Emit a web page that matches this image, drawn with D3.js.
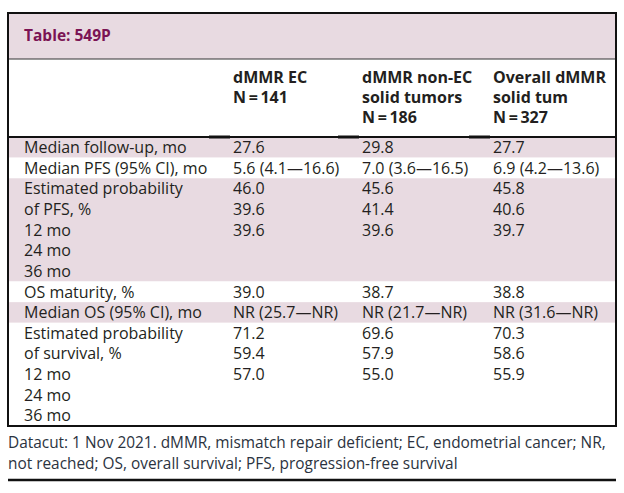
<!DOCTYPE html>
<html>
<head>
<meta charset="utf-8">
<script src="https://cdn.jsdelivr.net/npm/d3@7"></script>
<style>
  html, body { margin: 0; padding: 0; background: #fff; }
  svg { display: block; }
</style>
</head>
<body>
<svg id="chart" width="624" height="493"></svg>
<script>
// ---------- data ----------
const tableTitle = "Table: 549P";
const columnHeaders = [
  ["dMMR EC", "N\u2009=\u2009141"],
  ["dMMR non-EC", "solid tumors", "N\u2009=\u2009186"],
  ["Overall dMMR", "solid tum", "N\u2009=\u2009327"]
];
const rowLabels = [
  ["Median follow-up, mo"],
  ["Median PFS (95% CI), mo"],
  ["Estimated probability", "of PFS, %", "12 mo", "24 mo", "36 mo"],
  ["OS maturity, %"],
  ["Median OS (95% CI), mo"],
  ["Estimated probability", "of survival, %", "12 mo", "24 mo", "36 mo"]
];
const ecValues = [
  ["27.6"], ["5.6 (4.1\u201416.6)"], ["46.0", "39.6", "39.6"],
  ["39.0"], ["NR (25.7\u2014NR)"], ["71.2", "59.4", "57.0"]
];
const nonEcValues = [
  ["29.8"], ["7.0 (3.6\u201416.5)"], ["45.6", "41.4", "39.6"],
  ["38.7"], ["NR (21.7\u2014NR)"], ["69.6", "57.9", "55.0"]
];
const overallValues = [
  ["27.7"], ["6.9 (4.2\u201413.6)"], ["45.8", "40.6", "39.7"],
  ["38.8"], ["NR (31.6\u2014NR)"], ["70.3", "58.6", "55.9"]
];
const footnoteLines = [
  "Datacut: 1 Nov 2021. dMMR, mismatch repair deficient; EC, endometrial cancer; NR,",
  "not reached; OS, overall survival; PFS, progression-free survival"
];

// ---------- layout ----------
const svg = d3.select("#chart");
const box = { x0: 8, x1: 616, y0: 13, titleBottom: 59, headBottom: 137, y1: 426 };
const pink = "#e8dae1";
const font = "'Open Sans', sans-serif";
const textColor = "#231f20";

// column x positions
const colX = d3.scaleOrdinal().domain(["label", "ec", "nonEc", "overall"]).range([24, 233, 362, 493]);
const columnData = [ecValues, nonEcValues, overallValues];
const colKeys = ["ec", "nonEc", "overall"];

// rows: cumulative line counts mapped to y
const lineCounts = rowLabels.map((l, i) => Math.max(l.length, ecValues[i].length));
const cum = [0];
lineCounts.forEach(c => cum.push(cum[cum.length - 1] + c));
const yLine = d3.scaleLinear().domain([0, cum[cum.length - 1]]).range([box.headBottom, box.y1]);

// title band
svg.append("rect").attr("x", box.x0).attr("y", box.y0)
  .attr("width", box.x1 - box.x0).attr("height", box.titleBottom - box.y0)
  .attr("fill", pink);

// row shading
svg.append("g").selectAll("rect").data(lineCounts).join("rect")
  .attr("x", box.x0).attr("width", box.x1 - box.x0)
  .attr("y", (d, i) => yLine(cum[i]))
  .attr("height", (d, i) => yLine(cum[i + 1]) - yLine(cum[i]))
  .attr("fill", (d, i) => i % 2 === 0 ? pink : "#ffffff");

// title
svg.append("text").attr("x", 24).attr("y", 41)
  .attr("font-family", font).attr("font-size", 15.5).attr("font-weight", 700)
  .attr("fill", "#7b1454").text(tableTitle);

// header text
const hdr = svg.append("g").attr("font-family", font).attr("font-size", 16)
  .attr("font-weight", 700).attr("fill", textColor);
columnHeaders.forEach((lines, ci) => {
  hdr.selectAll(null).data(lines).join("text")
    .attr("x", colX(colKeys[ci]))
    .attr("y", (d, i) => 83 + i * 20)
    .text(d => d);
});

// body text
const body = svg.append("g").attr("font-family", font).attr("font-size", 16).attr("fill", textColor);
const lineH = yLine(1) - yLine(0);
rowLabels.forEach((lines, ri) => {
  const top = yLine(cum[ri]);
  body.selectAll(null).data(lines).join("text")
    .attr("x", colX("label")).attr("y", (d, i) => top + 16 + i * lineH).text(d => d);
  columnData.forEach((vals, ci) => {
    body.selectAll(null).data(vals[ri]).join("text")
      .attr("x", colX(colKeys[ci])).attr("y", (d, i) => top + 16 + i * lineH).text(d => d);
  });
});

// lines
svg.append("line").attr("x1", box.x0).attr("x2", box.x1)
  .attr("y1", box.titleBottom).attr("y2", box.titleBottom)
  .attr("stroke", "#333").attr("stroke-width", 1);
svg.append("line").attr("x1", box.x0).attr("x2", box.x1)
  .attr("y1", box.headBottom).attr("y2", box.headBottom)
  .attr("stroke", "#111").attr("stroke-width", 2);
// slightly heavier segments in the column gaps of the header rule
svg.append("g").selectAll("line").data(colKeys).join("line")
  .attr("x1", d => colX(d) - 24).attr("x2", d => colX(d) - 3)
  .attr("y1", box.headBottom).attr("y2", box.headBottom)
  .attr("stroke", "#111").attr("stroke-width", 3);

// outer box
svg.append("rect").attr("x", box.x0).attr("y", box.y0)
  .attr("width", box.x1 - box.x0).attr("height", box.y1 - box.y0)
  .attr("fill", "none").attr("stroke", "#111").attr("stroke-width", 2);

// footnote
svg.append("g").attr("font-family", font).attr("font-size", 15.4).attr("fill", "#2b3340")
  .selectAll("text").data(footnoteLines).join("text")
  .attr("x", 8).attr("y", (d, i) => 448 + i * 21).text(d => d);

// bottom rule
svg.append("line").attr("x1", box.x0).attr("x2", box.x1)
  .attr("y1", 480).attr("y2", 480)
  .attr("stroke", "#111").attr("stroke-width", 2.5);
</script>
</body>
</html>
